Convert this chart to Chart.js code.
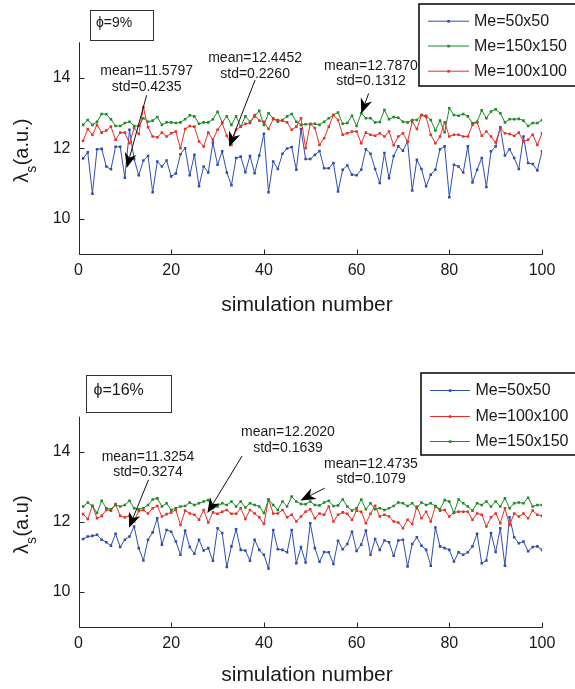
<!DOCTYPE html>
<html><head><meta charset="utf-8">
<script src="https://cdn.jsdelivr.net/npm/chart.js@4.4.1/dist/chart.umd.min.js"></script>
<style>
html,body{margin:0;padding:0;background:#fff;}
#wrap{position:relative;width:575px;height:689px;overflow:hidden;background:#fff;}
.pane{position:absolute;left:0;width:575px;}
canvas{display:block;}
</style></head><body>
<div id="wrap">
<div class="pane" style="top:0;height:345px"><canvas id="c1"></canvas></div>
<div class="pane" style="top:345px;height:344px"><canvas id="c2"></canvas></div>
</div>
<script>
// ---------- data ----------
const simulations = [];
for (let i = 1; i <= 100; i++) simulations.push(i);
const xTicks = [0, 20, 40, 60, 80, 100];
const yTicks = [10, 12, 14];

// phi = 9%
const top_me50 = [
 11.71,11.88,10.71,11.97,11.98,11.48,11.40,12.04,12.04,11.16,
 12.52,11.69,11.23,11.65,11.78,10.75,11.62,11.48,11.65,11.20,
 11.28,11.83,12.00,11.23,11.81,10.92,11.48,11.31,12.16,11.53,
 11.91,11.31,10.95,11.72,11.76,11.32,11.78,11.29,11.79,12.41,
 10.75,11.62,11.41,11.84,11.99,12.03,11.39,12.54,11.69,11.69,
 11.81,11.92,11.43,11.43,11.58,10.77,11.39,11.51,11.25,11.23,
 11.39,11.97,11.84,11.41,11.01,11.86,11.15,11.78,12.05,11.93,
 12.19,10.80,11.67,11.41,10.92,11.25,11.39,11.97,12.05,10.61,
 11.53,11.48,11.31,12.05,11.03,11.39,11.72,10.90,11.91,12.05,
 12.59,11.79,11.97,11.72,11.41,12.33,11.58,11.55,11.37,11.91];
const top_me150 = [
 12.66,12.80,12.66,12.75,12.97,12.96,12.82,12.63,12.63,12.71,
 12.75,12.63,12.63,12.85,12.75,12.78,12.88,12.66,12.73,12.73,
 12.71,12.73,12.82,12.93,12.90,12.69,12.73,12.73,12.82,13.03,
 12.73,12.90,12.66,12.90,12.61,12.90,12.75,12.90,13.06,12.66,
 12.99,12.85,12.75,12.80,12.90,12.97,12.75,12.66,12.68,12.68,
 12.69,12.66,12.75,12.85,12.94,13.01,12.69,12.71,12.92,12.63,
 12.99,12.85,12.85,12.73,12.74,13.08,12.82,12.88,12.86,12.75,
 12.73,12.80,12.80,12.94,12.92,12.80,12.50,12.78,12.45,13.13,
 12.94,12.92,12.97,12.90,12.71,12.75,13.07,12.85,13.04,13.10,
 12.99,12.73,12.82,12.82,12.83,12.78,12.63,12.71,12.71,12.80];
const top_me100 = [
 12.21,12.54,12.38,12.66,12.44,12.50,12.61,12.24,12.44,12.44,
 12.14,12.57,12.40,13.16,12.59,12.33,12.31,12.44,12.33,12.42,
 12.47,12.00,12.54,12.63,12.61,12.19,12.05,12.44,12.24,12.52,
 12.71,12.35,12.09,12.52,12.61,12.69,12.71,12.94,12.78,12.75,
 12.54,12.82,12.80,12.78,12.73,12.52,12.61,12.85,12.00,12.69,
 12.57,12.09,12.28,12.61,12.94,12.80,12.38,12.42,12.47,12.47,
 12.14,12.44,12.38,12.35,12.42,12.33,12.47,12.08,12.33,12.42,
 12.19,12.75,12.54,12.94,12.88,12.38,12.14,12.33,12.73,12.33,
 12.38,12.38,12.33,12.33,12.66,12.73,12.35,12.47,12.33,12.16,
 12.57,12.42,12.40,12.35,12.44,12.19,12.24,12.38,12.09,12.42];

// phi = 16%
const bot_me50 = [
 11.51,11.58,11.60,11.63,11.49,11.42,11.32,11.66,11.28,11.49,
 11.58,11.87,11.25,10.90,11.49,11.70,12.10,11.35,11.77,11.72,
 11.44,11.06,11.75,11.28,11.09,11.49,11.18,11.25,10.89,11.82,
 11.68,10.71,11.30,11.79,11.20,11.18,10.89,11.49,11.20,11.06,
 10.67,11.77,11.22,11.20,11.13,11.77,10.82,11.28,10.84,11.96,
 11.25,10.86,11.14,11.13,10.80,11.46,11.22,11.37,11.72,11.17,
 11.35,11.75,11.06,11.51,11.20,11.47,11.42,11.03,11.47,11.49,
 10.73,11.37,11.56,11.32,11.20,10.75,11.84,11.30,11.25,11.20,
 10.87,11.13,11.06,11.13,11.30,11.66,10.82,10.90,11.68,11.14,
 11.82,10.75,12.13,11.56,11.39,11.44,11.16,11.28,11.30,11.20];
const bot_me100 = [
 12.22,12.08,12.46,12.10,12.17,12.34,12.32,12.51,12.17,12.13,
 12.17,12.01,12.31,12.34,12.24,12.39,12.45,12.15,12.22,12.27,
 12.34,11.91,12.32,12.24,12.20,12.06,12.34,11.98,12.27,12.23,
 12.29,12.34,12.23,12.23,12.39,12.08,12.34,12.24,12.13,11.94,
 12.64,12.24,12.24,12.34,12.13,12.20,12.01,12.15,12.29,12.36,
 12.10,12.24,12.20,12.44,12.01,12.20,12.27,12.23,12.06,12.32,
 12.29,11.96,12.23,12.46,12.15,12.20,12.15,12.01,11.98,11.82,
 12.06,11.94,12.44,12.10,12.29,12.01,12.44,12.32,12.34,12.15,
 12.27,12.29,12.29,12.29,12.06,12.24,12.20,11.87,12.13,12.24,
 11.96,12.39,11.91,12.24,12.15,12.24,12.10,12.32,12.20,12.17];
const bot_me150 = [
 12.44,12.55,12.45,12.25,12.60,12.39,12.36,12.48,12.44,12.48,
 12.60,12.39,12.36,12.39,12.48,12.64,12.67,12.44,12.53,12.34,
 12.39,12.44,12.45,12.55,12.48,12.53,12.58,12.62,12.39,12.44,
 12.53,12.48,12.58,12.44,12.58,12.41,12.53,12.48,12.44,12.25,
 12.64,12.48,12.34,12.58,12.44,12.72,12.58,12.51,12.50,12.58,
 12.48,12.47,12.55,12.60,12.45,12.47,12.64,12.44,12.32,12.39,
 12.64,12.36,12.53,12.36,12.39,12.34,12.39,12.45,12.55,12.53,
 12.45,12.53,12.39,12.55,12.48,12.53,12.45,12.36,12.62,12.58,
 12.25,12.64,12.53,12.44,12.32,12.53,12.48,12.58,12.44,12.58,
 12.44,12.67,12.39,12.53,12.55,12.53,12.69,12.44,12.48,12.48];

const labels50 = 'Me=50x50', labels100 = 'Me=100x100', labels150 = 'Me=150x150';
const topNotes = [['mean=11.5797','std=0.4235'],['mean=12.4452','std=0.2260'],['mean=12.7870','std=0.1312']];
const botNotes = [['mean=11.3254','std=0.3274'],['mean=12.2020','std=0.1639'],['mean=12.4735','std=0.1079']];

// ---------- style ----------
const FONT = '"Liberation Sans", Arial, Helvetica, sans-serif';
const BLUE = 'rgb(48,78,178)', GREEN = 'rgb(28,140,38)', RED = 'rgb(232,48,40)';

function arrow(ctx, x0, y0, x1, y1) {
  const ang = Math.atan2(y1 - y0, x1 - x0);
  const L = 15, W = 6;
  ctx.beginPath();
  ctx.moveTo(x0, y0);
  ctx.lineTo(x1 - Math.cos(ang) * L * 0.7, y1 - Math.sin(ang) * L * 0.7);
  ctx.stroke();
  ctx.save();
  ctx.translate(x1, y1);
  ctx.rotate(ang);
  ctx.beginPath();
  ctx.moveTo(0, 0);
  ctx.lineTo(-L, -W);
  ctx.lineTo(-L * 0.7, 0);
  ctx.lineTo(-L, W);
  ctx.closePath();
  ctx.fill();
  ctx.restore();
}

function makeDecor(cfg) {
  return {
    id: 'decor_' + cfg.name,
    afterDraw(chart) {
      const ctx = chart.ctx, xs = chart.scales.x, ys = chart.scales.y, a = chart.chartArea;
      ctx.save();
      // axes lines
      ctx.strokeStyle = '#262626'; ctx.lineWidth = 1;
      const lx = Math.round(a.left) + 0.5, by = Math.round(a.bottom) + 0.5;
      ctx.beginPath();
      ctx.moveTo(lx, a.top); ctx.lineTo(lx, by); ctx.lineTo(a.right + 0.5, by);
      xTicks.forEach(v => { const px = Math.round(xs.getPixelForValue(v)) + 0.5; ctx.moveTo(px, by); ctx.lineTo(px, by - 5); });
      yTicks.forEach(v => { const py = Math.round(ys.getPixelForValue(v)) + 0.5; ctx.moveTo(lx, py); ctx.lineTo(lx + 5, py); });
      ctx.stroke();

      // x title
      ctx.fillStyle = '#1a1a1a';
      ctx.font = '21px ' + FONT;
      ctx.textAlign = 'center'; ctx.textBaseline = 'middle';
      ctx.fillText('simulation number', cfg.xTitleX, cfg.xTitleY);

      // y title (rotated with subscript)
      ctx.save();
      ctx.translate(cfg.yTitleX, cfg.yTitleY);
      ctx.rotate(-Math.PI / 2);
      ctx.textAlign = 'left'; ctx.textBaseline = 'alphabetic';
      ctx.font = '20px ' + FONT; const w1 = ctx.measureText('λ').width; const w3 = ctx.measureText(cfg.yUnit).width;
      ctx.font = '14px ' + FONT; const w2 = ctx.measureText('s').width;
      let s = -(w1 + w2 + w3) / 2;
      ctx.font = '20px ' + FONT; ctx.fillText('λ', s, 0);
      ctx.font = '14px ' + FONT; ctx.fillText('s', s + w1, 8);
      ctx.font = '20px ' + FONT; ctx.fillText(cfg.yUnit, s + w1 + w2 + 0.5, 0);
      ctx.restore();

      // annotations
      ctx.font = '14px ' + FONT;
      ctx.textAlign = 'center'; ctx.textBaseline = 'middle';
      ctx.fillStyle = '#1a1a1a'; ctx.strokeStyle = '#111'; ctx.lineWidth = 1;
      cfg.notes.forEach(n => {
        const tx = xs.getPixelForValue(n.tx);
        ctx.fillText(n.lines[0], tx, ys.getPixelForValue(n.ty[0]));
        ctx.fillText(n.lines[1], tx, ys.getPixelForValue(n.ty[1]));
        ctx.fillStyle = '#000';
        arrow(ctx, xs.getPixelForValue(n.from[0]), ys.getPixelForValue(n.from[1]),
                   xs.getPixelForValue(n.to[0]), ys.getPixelForValue(n.to[1]));
        ctx.fillStyle = '#1a1a1a';
      });

      // phi box
      const p = cfg.phi;
      ctx.fillStyle = '#fff'; ctx.fillRect(p.x, p.y, p.w, p.h);
      ctx.strokeStyle = '#333'; ctx.lineWidth = 1;
      ctx.strokeRect(Math.round(p.x) + 0.5, Math.round(p.y) + 0.5, Math.round(p.w), Math.round(p.h));
      ctx.fillStyle = '#1a1a1a'; ctx.textAlign = 'left'; ctx.textBaseline = 'middle';
      ctx.font = p.size + 'px ' + FONT;
      ctx.fillText(p.text, p.tx, p.ty);

      // legend
      const L = cfg.legend;
      ctx.fillStyle = '#fff'; ctx.fillRect(L.x, L.y, L.w, L.h);
      ctx.strokeStyle = '#111'; ctx.lineWidth = 1.6;
      ctx.strokeRect(L.x, L.y, L.w, L.h);
      ctx.font = '16px ' + FONT; ctx.textBaseline = 'middle'; ctx.textAlign = 'left';
      chart.data.datasets.forEach((d, i) => {
        const y = L.rows[i];
        ctx.strokeStyle = d.borderColor; ctx.lineWidth = 1;
        ctx.beginPath(); ctx.moveTo(L.lx0, y + 0.5); ctx.lineTo(L.lx1, y + 0.5); ctx.stroke();
        ctx.fillStyle = d.borderColor;
        ctx.fillRect((L.lx0 + L.lx1) / 2 - 1.2, y - 0.7, 2.6, 2.6);
        ctx.fillStyle = '#1a1a1a';
        ctx.fillText(d.label, L.tx, y + 1);
      });
      ctx.restore();
    }
  };
}

function makeChart(id, H, area, series, decor) {
  const el = document.getElementById(id);
  el.width = 575; el.height = H;
  return new Chart(el, {
    type: 'line',
    data: {
      datasets: series.map((s, i) => ({
        label: s.label,
        data: simulations.map((sim, k) => ({ x: sim, y: s.values[k] })),
        borderColor: s.color, backgroundColor: s.color,
        pointBackgroundColor: s.color, pointBorderWidth: 0,
        borderWidth: 1, pointRadius: 1.8, pointStyle: 'rect',
        tension: 0, order: series.length - i
      }))
    },
    options: {
      responsive: false, animation: false, devicePixelRatio: 1,
      layout: { padding: { left: 0, right: 575 - area.right, top: area.top, bottom: 0 } },
      plugins: { legend: { display: false }, tooltip: { enabled: false } },
      scales: {
        x: {
          type: 'linear', min: 0, max: 100,
          grid: { display: false, drawTicks: false }, border: { display: false },
          afterBuildTicks: s => { s.ticks = xTicks.map(v => ({ value: v })); },
          afterFit: s => { s.height = H - area.bottom; },
          ticks: { color: '#1a1a1a', font: { family: FONT, size: 16 }, padding: 7, maxRotation: 0, autoSkip: false }
        },
        y: {
          type: 'linear', min: 9, max: 15,
          grid: { display: false, drawTicks: false }, border: { display: false },
          afterBuildTicks: s => { s.ticks = yTicks.map(v => ({ value: v })); },
          afterFit: s => { s.width = area.left; },
          ticks: { color: '#1a1a1a', font: { family: FONT, size: 16 }, padding: 8 }
        }
      }
    },
    plugins: [decor]
  });
}

// top panel
makeChart('c1', 345, { left: 78.5, right: 542, top: 42.3, bottom: 254 },
  [ { label: labels50, values: top_me50, color: BLUE },
    { label: labels150, values: top_me150, color: GREEN },
    { label: labels100, values: top_me100, color: RED } ],
  makeDecor({
    name: 'top', xTitleX: 307, xTitleY: 305, yTitleX: 28, yTitleY: 151, yUnit: '(a.u.)',
    notes: [
      { lines: topNotes[0], tx: 14.7, ty: [14.19, 13.72], from: [14.7, 13.5], to: [10.4, 11.44] },
      { lines: topNotes[1], tx: 38.1, ty: [14.54, 14.10], from: [38.1, 13.93], to: [32.5, 12.04] },
      { lines: topNotes[2], tx: 63.1, ty: [14.33, 13.90], from: [62.6, 13.55], to: [61.0, 12.98] }
    ],
    phi: { x: 90, y: 10, w: 63, h: 30, text: 'ϕ=9%', tx: 96, ty: 23.5, size: 14 },
    legend: { x: 419, y: 4, w: 160, h: 82, rows: [20.7, 45.5, 70.7], lx0: 428, lx1: 469, tx: 474 }
  }));

// bottom panel
makeChart('c2', 344, { left: 78.5, right: 542, top: 71.7, bottom: 282 },
  [ { label: labels50, values: bot_me50, color: BLUE },
    { label: labels100, values: bot_me100, color: RED },
    { label: labels150, values: bot_me150, color: GREEN } ],
  makeDecor({
    name: 'bot', xTitleX: 307, xTitleY: 330, yTitleX: 28, yTitleY: 180, yUnit: '(a.u)',
    notes: [
      { lines: botNotes[0], tx: 15.0, ty: [13.86, 13.41], from: [15.1, 13.20], to: [10.9, 11.83] },
      { lines: botNotes[1], tx: 45.2, ty: [14.55, 14.10], from: [35.3, 13.88], to: [27.8, 12.25] },
      { lines: botNotes[2], tx: 63.1, ty: [13.65, 13.22], from: [53.1, 12.96], to: [47.9, 12.61] }
    ],
    phi: { x: 85.5, y: 30, w: 85, h: 37, text: 'ϕ=16%', tx: 93.5, ty: 46, size: 16 },
    legend: { x: 421, y: 28, w: 160, h: 82, rows: [45, 71, 96], lx0: 430, lx1: 470, tx: 475.5 }
  }));
</script>
</body></html>
